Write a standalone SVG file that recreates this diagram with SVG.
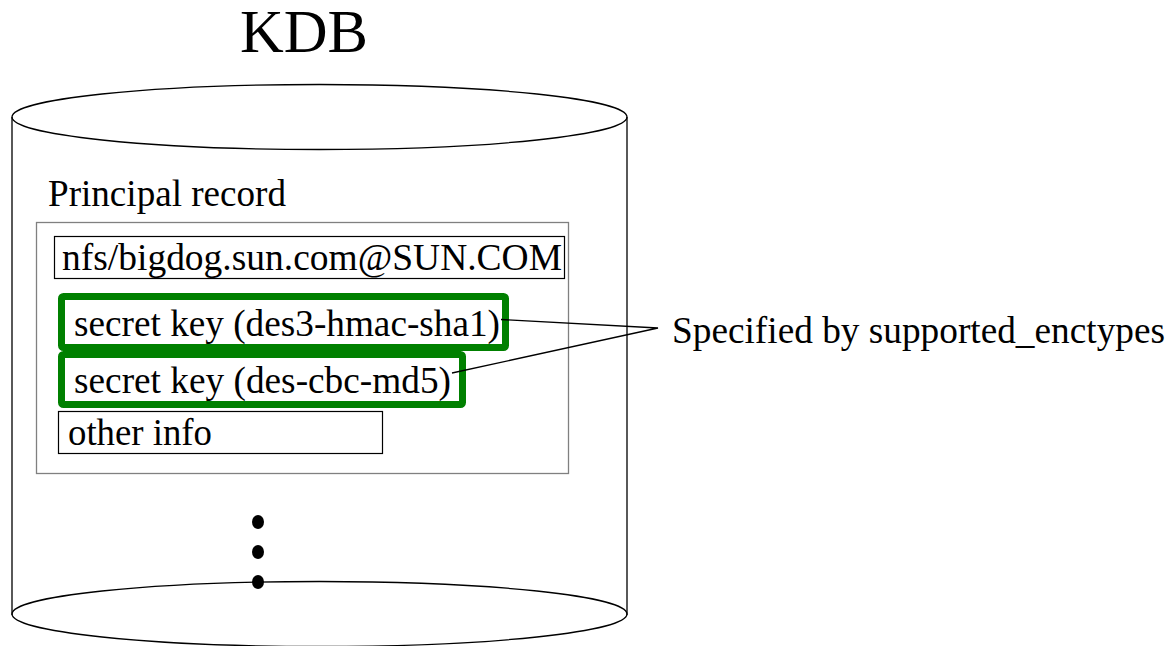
<svg xmlns="http://www.w3.org/2000/svg" width="1172" height="646" viewBox="0 0 1172 646">
<style>
text { font-family: "Liberation Serif", "Times New Roman", serif; fill: #000; }
.t { font-size: 37px; }
.line { fill: none; stroke: #000; stroke-width: 1.3; }
.gbox { fill: #fff; stroke: #008000; stroke-width: 7; }
.tbox { fill: #fff; stroke: #000; stroke-width: 1.2; }
.dot { fill: #000; }
</style>
<rect width="1172" height="646" fill="#fff"/>
<g id="kdb">
  <path class="line" d="M12,117 L12,615 M627,117 L627,615"/>
  <ellipse class="line" cx="319.5" cy="117" rx="307.5" ry="32.5" fill="#fff"/>
  <ellipse class="line" cx="319.5" cy="614" rx="307.5" ry="32.5"/>
  <text x="240" y="52" font-size="61" textLength="128" lengthAdjust="spacingAndGlyphs">KDB</text>
</g>
<g id="principal-record">
  <text class="t" x="48" y="206" textLength="238" lengthAdjust="spacingAndGlyphs">Principal record</text>
  <rect x="36.5" y="222.5" width="532" height="251" fill="none" stroke="#808080" stroke-width="1.3"/>
</g>
<g id="principal-name">
  <rect class="tbox" x="54.5" y="236.5" width="510" height="42"/>
  <text class="t" x="62" y="270" textLength="500" lengthAdjust="spacingAndGlyphs">nfs/bigdog.sun.com@SUN.COM</text>
</g>
<g id="key-des3">
  <rect class="gbox" x="61.5" y="296.5" width="444" height="51" rx="2"/>
  <text class="t" x="74" y="336" textLength="426" lengthAdjust="spacingAndGlyphs">secret key (des3-hmac-sha1)</text>
</g>
<g id="key-des">
  <rect class="gbox" x="61.5" y="354.5" width="401" height="50" rx="2"/>
  <text class="t" x="74" y="393" textLength="377" lengthAdjust="spacingAndGlyphs">secret key (des-cbc-md5)</text>
</g>
<g id="other-info">
  <rect class="tbox" x="58.5" y="411.5" width="324" height="42"/>
  <text class="t" x="68" y="444.5" textLength="144" lengthAdjust="spacingAndGlyphs">other info</text>
</g>
<g id="ellipsis">
  <ellipse class="dot" cx="258" cy="522" rx="6" ry="7"/>
  <ellipse class="dot" cx="258" cy="552" rx="6" ry="7"/>
  <ellipse class="dot" cx="258" cy="582" rx="6" ry="7"/>
</g>
<g id="connectors">
  <path class="line" stroke-width="1.2" d="M501,319.5 L658,328 L452,373"/>
</g>
<g id="enctypes-label">
  <text class="t" x="672" y="343" textLength="493" lengthAdjust="spacingAndGlyphs">Specified by supported_enctypes</text>
</g>
</svg>
